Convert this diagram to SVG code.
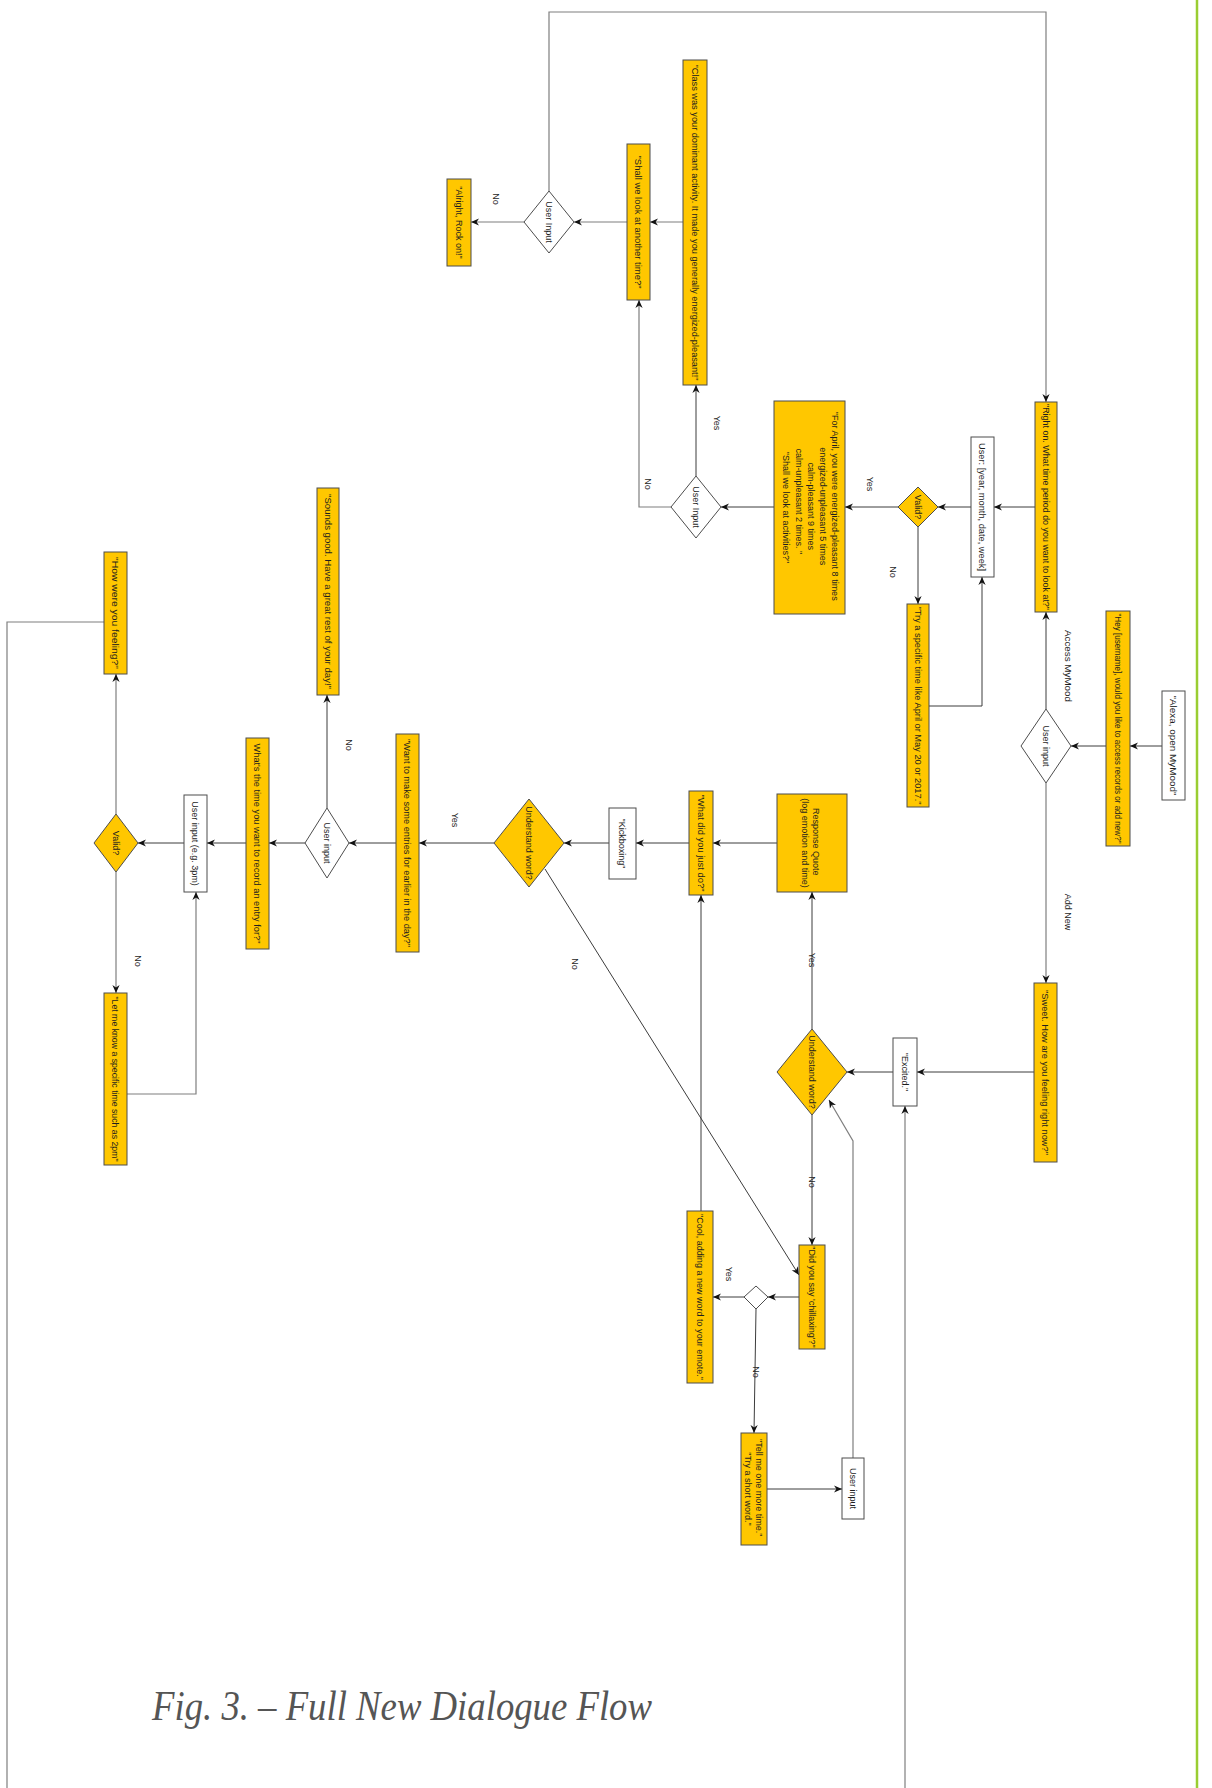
<svg xmlns="http://www.w3.org/2000/svg" width="1212" height="1788" viewBox="0 0 1212 1788">
  <style>
    .y { fill: #ffc700; stroke: #4d4d4d; stroke-width: 1; }
    .w { fill: #ffffff; stroke: #4d4d4d; stroke-width: 1; }
    .t { font-family: "Liberation Sans", Arial, sans-serif; font-size: 9px; fill: #1e1e1e; text-anchor: middle; }
    .c { fill: none; stroke: #3c3c3c; stroke-width: 1; }
    .g { fill: none; stroke: #7f7f7f; stroke-width: 1.2; }
    .a { marker-end: url(#arr); }
    .cap { font-family: "Liberation Serif", "Times New Roman", serif; font-style: italic; font-size: 42px; fill: #555555; }
  </style>
  <defs>
    <marker id="arr" viewBox="0 0 10 10" refX="10" refY="5" markerWidth="8" markerHeight="8" markerUnits="userSpaceOnUse" orient="auto">
      <path d="M0,0.5 L10,5 L0,9.5 L3,5 Z" fill="#111"/>
    </marker>
  </defs>

  <rect width="1212" height="1788" fill="#ffffff"/>

  <!-- page margin rule -->
  <line x1="1197" y1="0" x2="1197" y2="1788" stroke="#9acd32" stroke-width="2.5"/>

  <!-- connectors -->
  <g id="connectors">
    <path class="c a" d="M1162,746 H1130"/>
    <path class="c a" d="M1106,746 H1071"/>
    <path class="c a" d="M1046,709 V612"/>
    <path class="g a" d="M1046,783 V983"/>
    <path class="c a" d="M1035,507 H994"/>
    <path class="c a" d="M971,507 H938"/>
    <path class="c a" d="M898,507 H845"/>
    <path class="c a" d="M918,527 V604"/>
    <path class="c a" d="M929,706 H982 V577"/>
    <path class="c a" d="M774,507 H721"/>
    <path class="c a" d="M696,476 V385"/>
    <path class="g a" d="M671,507 H639 V300"/>
    <path class="g a" d="M683,222 H650"/>
    <path class="g a" d="M627,222 H574"/>
    <path class="g a" d="M524,222 H471"/>
    <path class="g a" d="M549,191 V12 H1046 V402"/>
    <path class="c a" d="M1034,1072 H917"/>
    <path class="c a" d="M893,1072 H847"/>
    <path class="c a" d="M812,1029 V892"/>
    <path class="c a" d="M812,1115 V1245"/>
    <path class="c a" d="M777,843 H713"/>
    <path class="c a" d="M689,843 H636"/>
    <path class="c a" d="M609,843 H564"/>
    <path class="c a" d="M494,843 H419"/>
    <path class="c a" d="M545,869 L799,1275"/>
    <path class="c a" d="M396,843 H349"/>
    <path class="c a" d="M327,808 V695"/>
    <path class="c a" d="M305,843 H269"/>
    <path class="c a" d="M246,843 H207"/>
    <path class="c a" d="M184,843 H138"/>
    <path class="g a" d="M116,814 V674"/>
    <path class="g a" d="M116,872 V993"/>
    <path class="g a" d="M127,1094 H196 V892"/>
    <path class="g" d="M104,622 H7 V1788"/>
    <path class="g a" d="M905,1788 V1106"/>
    <path class="c a" d="M799,1297 H768"/>
    <path class="c a" d="M744,1297 H713"/>
    <path class="c a" d="M756,1309 L754,1433"/>
    <path class="c a" d="M701,1211 V895"/>
    <path class="c a" d="M767,1489 H842"/>
    <path class="g a" d="M853,1458 V1141 L829,1100"/>
  </g>

  <!-- edge labels -->
  <g id="edge-labels">
    <text class="t" transform="translate(1068 666) rotate(90)" y="3.2" textLength="72" lengthAdjust="spacingAndGlyphs">Access MyMood</text>
    <text class="t" transform="translate(1068 912) rotate(90)" y="3.2">Add New</text>
    <text class="t" transform="translate(870 484) rotate(90)" y="3.2">Yes</text>
    <text class="t" transform="translate(893 572) rotate(90)" y="3.2">No</text>
    <text class="t" transform="translate(717 423) rotate(90)" y="3.2">Yes</text>
    <text class="t" transform="translate(648 484) rotate(90)" y="3.2">No</text>
    <text class="t" transform="translate(496 199) rotate(90)" y="3.2">No</text>
    <text class="t" transform="translate(812 960) rotate(90)" y="3.2">Yes</text>
    <text class="t" transform="translate(812 1182) rotate(90)" y="3.2">No</text>
    <text class="t" transform="translate(455 820) rotate(90)" y="3.2">Yes</text>
    <text class="t" transform="translate(575 964) rotate(90)" y="3.2">No</text>
    <text class="t" transform="translate(349 745) rotate(90)" y="3.2">No</text>
    <text class="t" transform="translate(138 961) rotate(90)" y="3.2">No</text>
    <text class="t" transform="translate(729 1274) rotate(90)" y="3.2">Yes</text>
    <text class="t" transform="translate(756 1372) rotate(90)" y="3.2">No</text>
  </g>

  <!-- nodes -->
  <g id="n-alexa">
    <rect class="w" x="1162" y="691" width="23" height="109"/>
    <text class="t" transform="translate(1173.5 745.5) rotate(90)" y="3.2" textLength="100" lengthAdjust="spacingAndGlyphs">"Alexa, open MyMood"</text>
  </g>
  <g id="n-hey">
    <rect class="y" x="1106" y="611" width="24" height="235"/>
    <text class="t" transform="translate(1118 728.5) rotate(90)" y="3.2" textLength="230" lengthAdjust="spacingAndGlyphs">"Hey [username], would you like to access records or add new?"</text>
  </g>
  <g id="n-choice">
    <polygon class="w" points="1046,709 1071,746 1046,783 1021,746"/>
    <text class="t" transform="translate(1046 746) rotate(90)" y="3.2">User input</text>
  </g>
  <g id="n-right-on">
    <rect class="y" x="1035" y="402" width="22" height="210"/>
    <text class="t" transform="translate(1046 507) rotate(90)" y="3.2" textLength="206" lengthAdjust="spacingAndGlyphs">"Right on. What time period do you want to look at?"</text>
  </g>
  <g id="n-period">
    <rect class="w" x="971" y="437" width="23" height="140"/>
    <text class="t" transform="translate(982.5 507) rotate(90)" y="3.2" textLength="128" lengthAdjust="spacingAndGlyphs">User: [year, month, date, week]</text>
  </g>
  <g id="n-valid-period">
    <polygon class="y" points="918,487 938,507 918,527 898,507"/>
    <text class="t" transform="translate(918 507) rotate(90)" y="3.2">Valid?</text>
  </g>
  <g id="n-try">
    <rect class="y" x="907" y="604" width="22" height="203"/>
    <text class="t" transform="translate(918 705.5) rotate(90)" y="3.2" textLength="198" lengthAdjust="spacingAndGlyphs">"Try a specific time like April or May 20 or 2017."</text>
  </g>
  <g id="n-summary">
    <rect class="y" x="774" y="401" width="71" height="213"/>
    <text class="t" transform="translate(811 507.5) rotate(90)">
      <tspan x="0" y="-21.4">"For April, you were energized-pleasant 8 times</tspan>
      <tspan x="0" y="-9.1">energized-unpleasant 5 times</tspan>
      <tspan x="0" y="3.2">calm-pleasant 9 times</tspan>
      <tspan x="-5" y="15.5">calm-unpleasant 2 times. "</tspan>
      <tspan x="0" y="27.8">"Shall we look at activities?"</tspan>
    </text>
  </g>
  <g id="n-activities-choice">
    <polygon class="w" points="696,476 721,507 696,538 671,507"/>
    <text class="t" transform="translate(696 507) rotate(90)" y="3.2">User Input</text>
  </g>
  <g id="n-class">
    <rect class="y" x="683" y="60" width="24" height="325"/>
    <text class="t" transform="translate(695 222.5) rotate(90)" y="3.2" textLength="316" lengthAdjust="spacingAndGlyphs">"Class was your dominant activity. It made you generally energized-pleasant!"</text>
  </g>
  <g id="n-another-time">
    <rect class="y" x="627" y="144" width="23" height="156"/>
    <text class="t" transform="translate(638.5 222) rotate(90)" y="3.2" textLength="133" lengthAdjust="spacingAndGlyphs">"Shall we look at another time?"</text>
  </g>
  <g id="n-another-choice">
    <polygon class="w" points="549,191 574,222 549,253 524,222"/>
    <text class="t" transform="translate(549 222) rotate(90)" y="3.2">User Input</text>
  </g>
  <g id="n-rock-on">
    <rect class="y" x="447" y="179" width="24" height="87"/>
    <text class="t" transform="translate(459 222.5) rotate(90)" y="3.2">"Alright, Rock on!"</text>
  </g>
  <g id="n-sweet">
    <rect class="y" x="1034" y="983" width="23" height="179"/>
    <text class="t" transform="translate(1045.5 1072.5) rotate(90)" y="3.2" textLength="165" lengthAdjust="spacingAndGlyphs">"Sweet. How are you feeling right now?"</text>
  </g>
  <g id="n-excited">
    <rect class="w" x="893" y="1038" width="24" height="68"/>
    <text class="t" transform="translate(905 1072) rotate(90)" y="3.2">"Excited."</text>
  </g>
  <g id="n-understand-emotion">
    <polygon class="y" points="812,1029 847,1072 812,1115 777,1072"/>
    <text class="t" transform="translate(812 1072) rotate(90)" y="3.2">Understand word?</text>
  </g>
  <g id="n-response">
    <rect class="y" x="777" y="794" width="70" height="98"/>
    <text class="t" transform="translate(811 843) rotate(90)">
      <tspan x="0" y="-1.8">Response Quote</tspan>
      <tspan x="0" y="9.2">(log emotion and time)</tspan>
    </text>
  </g>
  <g id="n-what-did-you-do">
    <rect class="y" x="689" y="791" width="24" height="104"/>
    <text class="t" transform="translate(701 843) rotate(90)" y="3.2" textLength="97" lengthAdjust="spacingAndGlyphs">"What did you just do?"</text>
  </g>
  <g id="n-kickboxing">
    <rect class="w" x="609" y="808" width="27" height="71"/>
    <text class="t" transform="translate(622.5 843.5) rotate(90)" y="3.2">"Kickboxing"</text>
  </g>
  <g id="n-understand-activity">
    <polygon class="y" points="529,799 564,843 529,887 494,843"/>
    <text class="t" transform="translate(529 843) rotate(90)" y="3.2">Understand word?</text>
  </g>
  <g id="n-earlier">
    <rect class="y" x="396" y="734" width="23" height="218"/>
    <text class="t" transform="translate(407.5 843) rotate(90)" y="3.2" textLength="208" lengthAdjust="spacingAndGlyphs">"Want to make some entries for earlier in the day?"</text>
  </g>
  <g id="n-earlier-choice">
    <polygon class="w" points="327,808 349,843 327,878 305,843"/>
    <text class="t" transform="translate(327 843) rotate(90)" y="3.2">User input</text>
  </g>
  <g id="n-sounds-good">
    <rect class="y" x="317" y="488" width="22" height="207"/>
    <text class="t" transform="translate(328 591.5) rotate(90)" y="3.2" textLength="195" lengthAdjust="spacingAndGlyphs">"Sounds good. Have a great rest of your day!"</text>
  </g>
  <g id="n-what-time">
    <rect class="y" x="246" y="738" width="23" height="211"/>
    <text class="t" transform="translate(257.5 843.5) rotate(90)" y="3.2" textLength="200" lengthAdjust="spacingAndGlyphs">What's the time you want to record an entry for?"</text>
  </g>
  <g id="n-time-input">
    <rect class="w" x="184" y="795" width="23" height="97"/>
    <text class="t" transform="translate(195.5 843.5) rotate(90)" y="3.2">User input (e.g. 3pm)</text>
  </g>
  <g id="n-valid-time">
    <polygon class="y" points="116,814 138,843 116,872 94,843"/>
    <text class="t" transform="translate(116 843) rotate(90)" y="3.2">Valid?</text>
  </g>
  <g id="n-how-feeling">
    <rect class="y" x="104" y="552" width="23" height="122"/>
    <text class="t" transform="translate(115.5 613) rotate(90)" y="3.2" textLength="112" lengthAdjust="spacingAndGlyphs">"How were you feeling?"</text>
  </g>
  <g id="n-let-me-know">
    <rect class="y" x="104" y="993" width="23" height="172"/>
    <text class="t" transform="translate(115.5 1079) rotate(90)" y="3.2" textLength="165" lengthAdjust="spacingAndGlyphs">"Let me know a specific time such as 2pm"</text>
  </g>
  <g id="n-did-you-say">
    <rect class="y" x="799" y="1245" width="26" height="104"/>
    <text class="t" transform="translate(812 1297) rotate(90)" y="3.2">"Did you say 'chillaxing'?"</text>
  </g>
  <g id="n-confirm">
    <polygon class="w" points="756,1286 768,1297 756,1309 744,1297"/>
  </g>
  <g id="n-cool">
    <rect class="y" x="687" y="1211" width="26" height="172"/>
    <text class="t" transform="translate(700 1297) rotate(90)" y="3.2" textLength="166" lengthAdjust="spacingAndGlyphs">"Cool, adding a new word to your emote."</text>
  </g>
  <g id="n-tell-me">
    <rect class="y" x="741" y="1433" width="26" height="112"/>
    <text class="t" transform="translate(754 1489) rotate(90)">
      <tspan x="0" y="-2.3">"Tell me one more time."</tspan>
      <tspan x="0" y="8.7">"Try a short word."</tspan>
    </text>
  </g>
  <g id="n-retry-input">
    <rect class="w" x="842" y="1458" width="22" height="61"/>
    <text class="t" transform="translate(853 1488.5) rotate(90)" y="3.2">User input</text>
  </g>

  <!-- caption -->
  <text class="cap" x="152" y="1720" textLength="500" lengthAdjust="spacingAndGlyphs">Fig. 3. – Full New Dialogue Flow</text>
</svg>
